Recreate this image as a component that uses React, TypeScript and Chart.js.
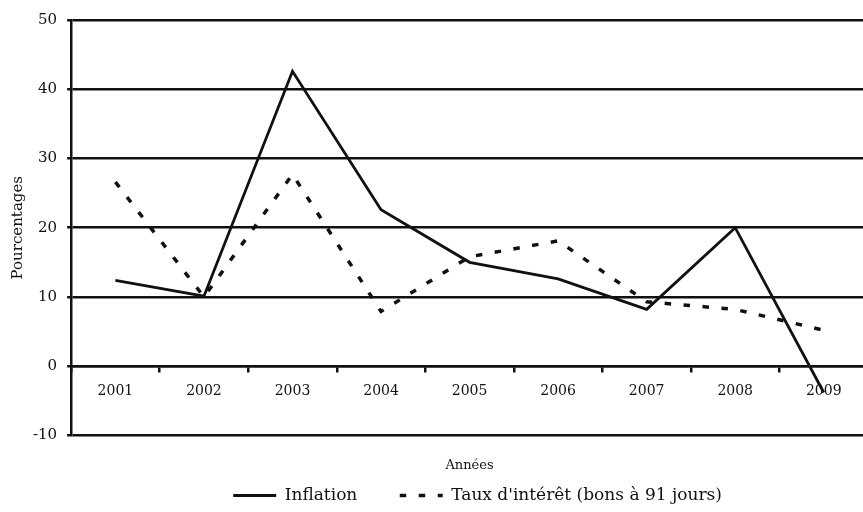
import React, { useEffect, useRef } from "react";
import { Chart, registerables } from "chart.js";

Chart.register(...registerables);

const years = ["2001", "2002", "2003", "2004", "2005", "2006", "2007", "2008", "2009"];
const inflation = [12.4, 10.1, 42.6, 22.6, 15.0, 12.6, 8.2, 20.0, -3.8];
const taux = [26.6, 10.0, 27.7, 7.9, 15.8, 18.1, 9.3, 8.2, 5.2];
const yMin = -10;
const yMax = 50;
const yStep = 10;
const labelInflation = "Inflation";
const labelTaux = "Taux d'intérêt (bons à 91 jours)";
const xTitle = "Années";
const yTitle = "Pourcentages";

const FONT = "'DejaVu Serif', serif";
const INK = "#111111";
const LEGEND_SHIFT = 8;

const legendShift = {
  id: "legendShift",
  beforeDraw(chart: any) {
    const lg = chart.legend;
    if (lg && !lg._shifted) {
      lg.left += LEGEND_SHIFT;
      lg.right += LEGEND_SHIFT;
      lg._shifted = true;
    }
  },
};

export default function App() {
  const ref = useRef<HTMLCanvasElement | null>(null);

  useEffect(() => {
    if (!ref.current) return;
    const chart = new Chart(ref.current, {
      type: "line",
      data: {
        labels: years,
        datasets: [
          {
            label: labelInflation,
            data: inflation,
            borderColor: INK,
            backgroundColor: INK,
            borderWidth: 2.8,
            pointRadius: 0,
            tension: 0,
            fill: false,
          },
          {
            label: labelTaux,
            data: taux,
            borderColor: INK,
            backgroundColor: INK,
            borderWidth: 3.5,
            borderDash: [6.5, 12.5],
            borderCapStyle: "butt",
            pointRadius: 0,
            tension: 0,
            fill: false,
          },
        ],
      },
      plugins: [legendShift],
      options: {
        animation: false,
        responsive: true,
        maintainAspectRatio: false,
        layout: { padding: { top: 20, right: 0, bottom: -2, left: 0 } },
        scales: {
          x: {
            type: "category",
            position: { y: 0 },
            offset: true,
            grid: {
              display: true,
              drawOnChartArea: false,
              drawTicks: true,
              tickLength: 5,
              offset: true,
              color: INK,
              lineWidth: 2.5,
            },
            border: { display: true, color: INK, width: 2.5 },
            ticks: {
              color: INK,
              font: { family: FONT, size: 14 },
              padding: 12,
              maxRotation: 0,
              autoSkip: false,
            },
          },
          y: {
            min: yMin,
            max: yMax,
            ticks: {
              stepSize: yStep,
              color: INK,
              font: { family: FONT, size: 15 },
              padding: 10,
            },
            grid: {
              color: INK,
              lineWidth: 2.5,
              drawTicks: true,
              tickLength: 4,
            },
            border: { display: true, color: INK, width: 2.5 },
            title: {
              display: true,
              text: yTitle,
              color: INK,
              font: { family: FONT, size: 15 },
              padding: { top: 9.5, bottom: -4.5 },
            },
          },
        },
        plugins: {
          title: {
            display: true,
            text: xTitle,
            position: "bottom",
            fullSize: false,
            weight: 500,
            color: INK,
            font: { family: FONT, size: 13, weight: "normal" },
            padding: { top: 22, bottom: 4 },
          } as any,
          legend: {
            display: true,
            position: "bottom",
            fullSize: false,
            labels: {
              color: INK,
              font: { family: FONT, size: 17 },
              usePointStyle: true,
              pointStyleWidth: 43,
              padding: 10,
              generateLabels: (c: Chart) =>
                c.data.datasets.map((ds: any, i: number) => ({
                  text: i === 0 ? ds.label + "      " : ds.label,
                  fillStyle: INK,
                  strokeStyle: INK,
                  lineWidth: ds.borderWidth,
                  lineDash: ds.borderDash || [],
                  lineCap: "butt",
                  pointStyle: "line",
                  hidden: false,
                  datasetIndex: i,
                  fontColor: INK,
                })),
            },
          },
          tooltip: { enabled: false },
        },
      },
    });
    return () => chart.destroy();
  }, []);

  return (
    <div
      style={{
        position: "fixed",
        left: 0,
        top: 0,
        width: 863,
        height: 512,
        overflow: "hidden",
        background: "#ffffff",
      }}
    >
      <div style={{ position: "relative", width: 868, height: 512 }}>
        <canvas ref={ref} />
      </div>
    </div>
  );
}
